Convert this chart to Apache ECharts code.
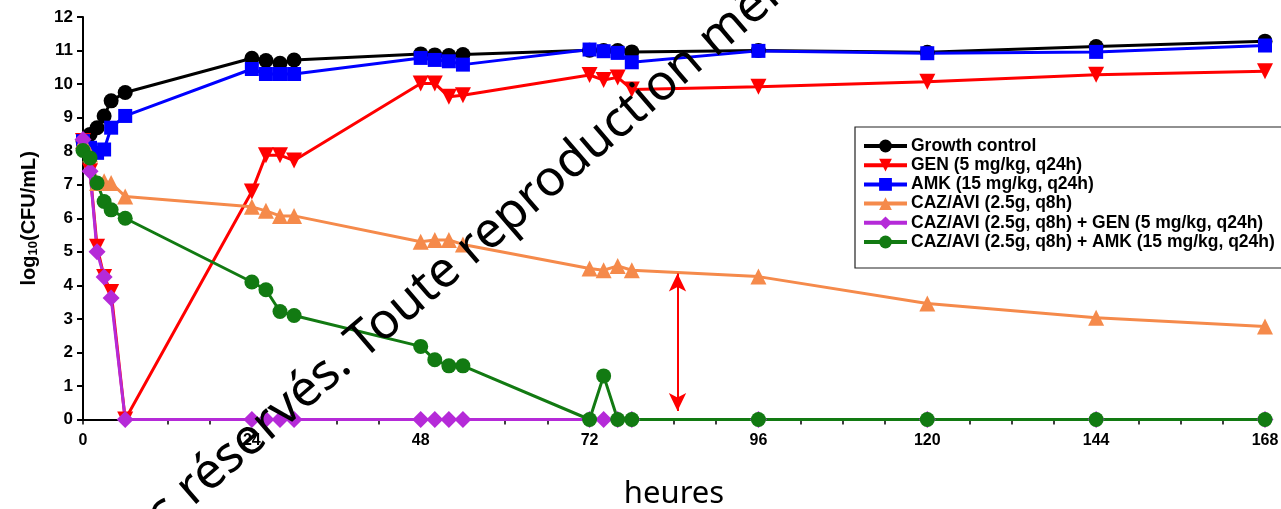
<!DOCTYPE html>
<html>
<head>
<meta charset="utf-8">
<script src="https://cdn.jsdelivr.net/npm/echarts@6/dist/echarts.min.js"></script>
<style>html,body{margin:0;padding:0;background:#fff}#c{width:1281px;height:509px}</style>
</head>
<body>
<div id="c"></div>
<script>
var times = [0,1,2,3,4,6,24,26,28,30,48,50,52,54,72,74,76,78,96,120,144,168];
var growthControl = [8.3,8.5,8.7,9.05,9.5,9.75,10.77,10.7,10.62,10.72,10.9,10.87,10.85,10.88,11.01,11.0,11.0,10.96,11.0,10.95,11.12,11.28];
var gen = [8.3,7.4,5.15,4.25,3.8,0,6.8,7.88,7.88,7.72,10.02,10.02,9.62,9.67,10.27,10.12,10.2,9.84,9.92,10.07,10.28,10.38];
var amk = [8.3,8.1,7.95,8.05,8.7,9.05,10.45,10.3,10.3,10.3,10.78,10.72,10.68,10.58,11.03,10.98,10.93,10.65,10.99,10.92,10.96,11.15];
var cazAvi = [8.3,7.9,7.05,7.1,7.05,6.65,6.34,6.22,6.07,6.07,5.3,5.35,5.35,5.22,4.5,4.45,4.58,4.45,4.26,3.46,3.03,2.77];
var cazAviGen = [8.35,7.4,5.0,4.25,3.62,0,0,0,0,0,0,0,0,0,0,0,0,0,0,0,0,0];
var cazAviAmk = [8.02,7.8,7.05,6.5,6.25,6.0,4.1,3.87,3.22,3.1,2.18,1.78,1.6,1.6,0,1.3,0,0,0,0,0,0];
var names = ['Growth control','GEN (5 mg/kg, q24h)','AMK (15 mg/kg, q24h)','CAZ/AVI (2.5g, q8h)','CAZ/AVI (2.5g, q8h) + GEN (5 mg/kg, q24h)','CAZ/AVI (2.5g, q8h) + AMK (15 mg/kg, q24h)'];
var xTicks = [0,24,48,72,96,120,144,168];
var arrowTime = 84.5;
var arrowSpan = [0.25, 4.35];

function pairs(vals){ return times.map(function(t,i){ return [t, vals[i]]; }); }

var colors = ['#000000','#ff0000','#0000ff','#f58a4b','#b52ad8','#127a12'];
var symbols = ['circle','triangle','rect','triangle','diamond','circle'];
var sizes = [15,16,14,16,17,15];
var rotates = [0,180,0,0,0,0];
var datasets = [growthControl, gen, amk, cazAvi, cazAviGen, cazAviAmk];

var series = datasets.map(function(d,i){
  return {
    name: names[i], type: 'line', data: pairs(d),
    symbol: symbols[i], symbolSize: sizes[i], symbolRotate: rotates[i],
    lineStyle: {color: colors[i], width: 3},
    itemStyle: {color: colors[i]},
    color: colors[i],
    animation: false, silent: true
  };
});
series.push({
  type: 'line', data: [], silent: true, animation: false,
  markLine: {
    silent: true, animation: false,
    symbol: ['arrow','arrow'], symbolSize: [13,18],
    lineStyle: {color: '#ff0000', width: 2, type: 'solid'},
    label: {show: false},
    data: [[{coord: [arrowTime, arrowSpan[0]]}, {coord: [arrowTime, arrowSpan[1]]}]]
  }
});

var chart = echarts.init(document.getElementById('c'));
chart.setOption({
  animation: false,
  grid: {left: 83, right: 16, top: 17, bottom: 89.5, containLabel: false, outerBoundsMode: 'none'},
  xAxis: {
    type: 'value', min: 0, max: 168, interval: 24,
    name: 'heures', nameLocation: 'middle', nameGap: 59,
    nameTextStyle: {fontFamily: 'Noto Sans', fontSize: 31, color: '#000'},
    axisLine: {lineStyle: {color: '#000', width: 2}},
    axisTick: {show: true, length: 5, lineStyle: {color: '#000', width: 1.5}},
    minorTick: {show: true, splitNumber: 4, length: 5, lineStyle: {color: '#000', width: 1.5}},
    axisLabel: {fontFamily: 'Liberation Sans', fontWeight: 'bold', fontSize: 16, color: '#000', margin: 13,
      formatter: function(v){ return xTicks.indexOf(v) >= 0 ? String(v) : ''; }},
    splitLine: {show: false}
  },
  yAxis: {
    type: 'value', min: 0, max: 12, interval: 1,
    name: 'log{s|10}(CFU/mL)', nameLocation: 'middle', nameGap: 43,
    nameTextStyle: {fontFamily: 'Liberation Sans', fontWeight: 'bold', fontSize: 20, color: '#000',
      rich: {s: {fontFamily: 'Liberation Sans', fontWeight: 'bold', fontSize: 13, color: '#000', verticalAlign: 'bottom', padding: [8,0,0,0]}}},
    axisLine: {show: true, lineStyle: {color: '#000', width: 2}},
    axisTick: {show: true, length: 6, lineStyle: {color: '#000', width: 2}},
    axisLabel: {fontFamily: 'Liberation Sans', fontWeight: 'bold', fontSize: 17, color: '#000', margin: 10},
    splitLine: {show: false}
  },
  legend: {
    data: names, orient: 'vertical', left: 855, top: 127,
    padding: [10, 40, 17, 7], itemGap: 1.2, itemWidth: 43, itemHeight: 16,
    borderColor: '#222', borderWidth: 1.2, backgroundColor: '#fff',
    lineStyle: {width: 4},
    textStyle: {fontFamily: 'Liberation Sans', fontWeight: 'bold', fontSize: 17.5, color: '#000', lineHeight: 16, padding: [0,0,0,-1]},
    selectedMode: false
  },
  series: series,
  graphic: [
    {type: 'text', x: 200, y: 515, rotation: 0.71, z: 100, silent: true,
     style: {text: 'réservés. Toute reproduction même partielle', fontFamily: 'Noto Sans', fontSize: 50, fill: '#000', align: 'left', verticalAlign: 'bottom'}},
    {type: 'text', x: 200, y: 515, rotation: 0.71, z: 100, silent: true,
     style: {text: 'Tous droits ', fontFamily: 'Noto Sans', fontSize: 50, fill: '#000', align: 'right', verticalAlign: 'bottom'}}
  ]
});
</script>
</body>
</html>
